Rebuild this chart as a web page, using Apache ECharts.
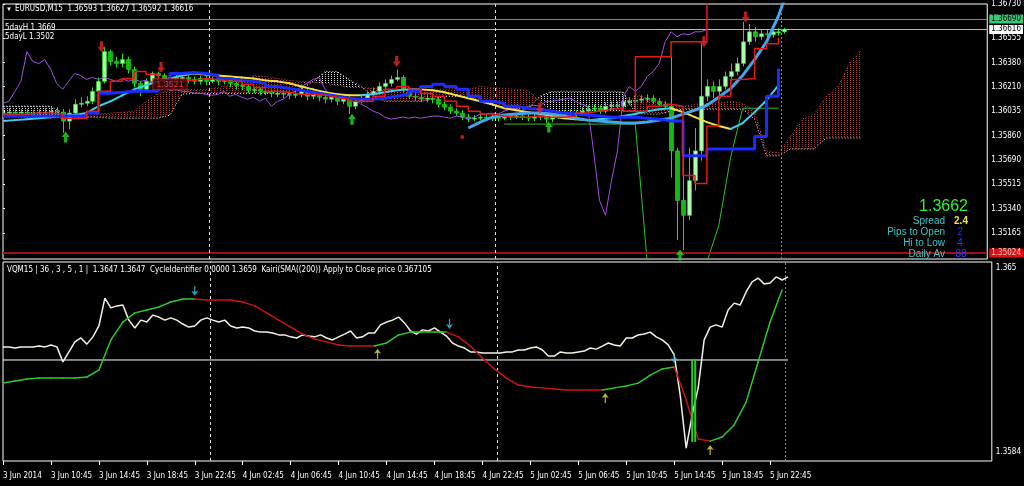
<!DOCTYPE html>
<html>
<head>
<meta charset="utf-8">
<script src="https://cdn.jsdelivr.net/npm/echarts@6.0.0/dist/echarts.min.js"></script>
<style>
html,body{margin:0;padding:0;background:#000;overflow:hidden}
#chart{width:1024px;height:486px}
</style>
</head>
<body>
<div id="chart"></div>
<script>
// ================= DATA =================
// time axis labels (one every 16 M15 bars = 4h)
const timeLabels = ['3 Jun 2014','3 Jun 10:45','3 Jun 14:45','3 Jun 18:45','3 Jun 22:45','4 Jun 02:45','4 Jun 06:45','4 Jun 10:45','4 Jun 14:45','4 Jun 18:45','4 Jun 22:45','5 Jun 02:45','5 Jun 06:45','5 Jun 10:45','5 Jun 14:45','5 Jun 18:45','5 Jun 22:45'];
// bar index (M15 bars from first bar) where each new day starts
const dayStartBars = [69, 165];
const lastDayStartBar = 261;

// EURUSD candles (one entry per 30 minutes)
const closes = [1.36020,1.36027,1.36020,1.36027,1.36020,1.36020,1.36027,1.36027,1.36034,1.36027,
1.35963,1.36020,1.36083,1.36090,1.36104,1.36175,1.36246,1.36458,1.36387,1.36373,
1.36401,1.36331,1.36232,1.36189,1.36246,1.36302,1.36288,1.36260,1.36274,1.36260,
1.36274,1.36260,1.36246,1.36267,1.36246,1.36260,1.36246,1.36253,1.36232,1.36218,
1.36210,1.36182,1.36189,1.36175,1.36175,1.36161,1.36161,1.36154,1.36147,1.36154,
1.36175,1.36140,1.36154,1.36133,1.36119,1.36133,1.36104,1.36126,1.36069,1.36104,
1.36119,1.36154,1.36175,1.36210,1.36232,1.36260,1.36274,1.36189,1.36140,1.36133,
1.36119,1.36126,1.36119,1.36083,1.36062,1.36034,1.36020,1.35991,1.35977,1.35984,
1.35991,1.35984,1.35991,1.35984,1.35991,1.35999,1.35999,1.35991,1.35984,1.35999,
1.35991,1.35977,1.35991,1.36013,1.36013,1.36020,1.36013,1.36034,1.36048,1.36055,
1.36034,1.36069,1.36076,1.36069,1.36104,1.36104,1.36112,1.36119,1.36126,1.36104,
1.36083,1.36069,1.35751,1.35398,1.35292,1.35539,1.35751,1.36140,1.36210,1.36175,
1.36210,1.36281,1.36316,1.36373,1.36528,1.36599,1.36564,1.36585,1.36578,1.36599,
1.36599,1.36616];
const highs = [1.36048,1.36055,1.36048,1.36048,1.36048,1.36041,1.36048,1.36055,1.36062,1.36062,
1.36048,1.36048,1.36119,1.36133,1.36140,1.36203,1.36274,1.36493,1.36472,1.36422,
1.36444,1.36422,1.36352,1.36246,1.36267,1.36316,1.36316,1.36302,1.36295,1.36295,
1.36295,1.36288,1.36281,1.36288,1.36288,1.36281,1.36281,1.36274,1.36267,1.36246,
1.36239,1.36225,1.36210,1.36203,1.36203,1.36189,1.36189,1.36182,1.36175,1.36182,
1.36203,1.36189,1.36175,1.36175,1.36154,1.36154,1.36147,1.36147,1.36140,1.36126,
1.36147,1.36175,1.36203,1.36239,1.36260,1.36288,1.36331,1.36288,1.36203,1.36161,
1.36154,1.36147,1.36147,1.36140,1.36104,1.36083,1.36055,1.36041,1.36013,1.36006,
1.36013,1.36013,1.36013,1.36013,1.36013,1.36020,1.36020,1.36020,1.36013,1.36020,
1.36020,1.36013,1.36020,1.36034,1.36041,1.36048,1.36041,1.36062,1.36076,1.36083,
1.36076,1.36097,1.36104,1.36104,1.36133,1.36133,1.36140,1.36147,1.36154,1.36147,
1.36126,1.36104,1.36422,1.35772,1.35716,1.35772,1.35914,1.36514,1.36260,1.36246,
1.36260,1.36316,1.36373,1.36415,1.36670,1.36655,1.36634,1.36620,1.36620,1.36627,
1.36627,1.36627];
const lows = [1.35991,1.35999,1.35999,1.35999,1.35991,1.35999,1.36006,1.36006,1.36006,1.35999,
1.35879,1.35907,1.36006,1.36062,1.36069,1.36083,1.36154,1.36232,1.36359,1.36345,
1.36345,1.36302,1.36203,1.36140,1.36175,1.36232,1.36260,1.36232,1.36246,1.36239,
1.36246,1.36232,1.36225,1.36225,1.36218,1.36232,1.36218,1.36225,1.36203,1.36189,
1.36182,1.36161,1.36161,1.36147,1.36147,1.36133,1.36133,1.36126,1.36119,1.36126,
1.36133,1.36112,1.36119,1.36104,1.36090,1.36097,1.36076,1.36083,1.36013,1.36048,
1.36090,1.36097,1.36140,1.36154,1.36189,1.36210,1.36246,1.36168,1.36119,1.36104,
1.36097,1.36097,1.36090,1.36062,1.36041,1.36013,1.35999,1.35970,1.35956,1.35963,
1.35970,1.35963,1.35963,1.35963,1.35970,1.35970,1.35977,1.35970,1.35963,1.35963,
1.35970,1.35949,1.35956,1.35977,1.35991,1.35991,1.35991,1.35999,1.36020,1.36027,
1.36013,1.36020,1.36048,1.36048,1.36055,1.36076,1.36083,1.36090,1.36097,1.36083,
1.36062,1.36048,1.35561,1.35115,1.35045,1.35257,1.35469,1.35681,1.36104,1.36126,
1.36140,1.36189,1.36246,1.36288,1.36352,1.36507,1.36528,1.36542,1.36550,1.36557,
1.36571,1.36585];

// indicator lines (one point every 4 M15 bars)
const tenkan = [1.36013,1.36013,1.36020,1.36020,1.36013,1.35984,1.35984,1.36034,1.36175,1.36246,
1.36267,1.36316,1.36295,1.36246,1.36253,1.36253,1.36267,1.36260,1.36246,1.36246,
1.36225,1.36203,1.36175,1.36168,1.36154,1.36154,1.36147,1.36133,1.36119,1.36104,
1.36104,1.36140,1.36189,1.36210,1.36189,1.36161,1.36140,1.36104,1.36069,1.36034,
1.36013,1.35999,1.35991,1.35991,1.35999,1.35991,1.35991,1.35999,1.36020,1.36034,
1.36048,1.36055,1.36034,1.36034,1.36069,1.36083,1.36069,1.35575,1.35518,1.35928,
1.36140,1.36260,1.36267,1.36479,1.36514,1.36557];
const kijun = [1.35999,1.35999,1.35999,1.35999,1.35999,1.35999,1.35999,1.36020,1.36161,1.36168,
1.36175,1.36175,1.36175,1.36210,1.36302,1.36309,1.36302,1.36288,1.36267,1.36253,
1.36246,1.36232,1.36210,1.36196,1.36182,1.36168,1.36154,1.36140,1.36126,1.36119,
1.36119,1.36126,1.36140,1.36154,1.36175,1.36210,1.36225,1.36210,1.36189,1.36140,
1.36104,1.36090,1.36069,1.36055,1.36048,1.36034,1.36020,1.36013,1.36006,1.35999,
1.35991,1.35991,1.35991,1.35984,1.35977,1.35963,1.35963,1.35716,1.35716,1.35765,
1.35765,1.35765,1.35765,1.35853,1.36140,1.36338];
const redStop = [null,null,null,null,null,null,null,null,null,null,
null,null,null,null,null,null,null,null,null,null,
null,null,null,null,null,null,null,null,null,null,
null,null,null,null,null,null,null,null,null,null,
null,null,null,null,null,null,null,null,null,null,
null,null,1.36034,1.36422,1.36422,1.36422,1.36528,1.36528,1.36528,1.36811];
const movingAvg = [1.35963,1.35970,1.35977,1.35984,1.35991,1.35999,1.36006,1.36020,1.36069,1.36104,
1.36147,1.36189,1.36218,1.36246,1.36267,1.36288,1.36302,1.36295,1.36288,1.36281,
1.36274,1.36267,1.36253,1.36246,1.36232,1.36210,1.36189,1.36168,1.36154,1.36147,
1.36147,1.36154,1.36168,1.36182,1.36189,1.36189,1.36182,1.36168,1.36147,1.36126,
1.36104,1.36083,1.36055,1.36041,1.36027,1.36013,1.35999,1.35984,1.35977,1.35970,
1.35977,1.35984,1.35999,1.36013,1.36034,1.36048,1.36055,1.36027,1.35991,1.35956,
1.35928,1.35907,1.35949,1.36027,1.36112,1.36218];
const regression = [null,null,null,null,null,null,null,null,null,null,
null,null,null,null,null,null,null,null,null,null,
null,null,null,null,null,null,null,null,null,null,
null,null,null,null,null,null,null,null,null,1.35914,
1.35956,1.35991,1.36006,1.36013,1.36020,1.36020,1.36013,1.35999,1.35984,1.35970,
1.35963,1.35956,1.35949,1.35949,1.35956,1.35970,1.35984,1.36013,1.36041,1.36076,
1.36133,1.36196,1.36288,1.36401,1.36528,1.36712,1.36952];
const greenStop = [null,null,null,null,null,null,null,null,null,null,
null,null,null,null,null,null,null,null,null,null,
null,null,null,null,null,null,null,null,null,null,
null,null,null,null,null,null,null,null,null,null,
null,null,1.35942,1.35942,1.35942,1.35942,1.35942,1.35942,1.35942,1.35942,
1.35942,1.35942,1.35942,1.35942,1.34960,null,null,null,null,1.34960,
1.35221,1.35709,1.36055,1.36055,1.36055,1.36055];
const spanA = [1.35991,1.35991,1.35991,1.35991,1.35991,1.35984,1.35984,1.35999,1.36013,1.36020,
1.36027,1.36034,1.36104,1.36161,1.36182,1.36189,1.36189,1.36189,1.36203,1.36218,
1.36246,1.36288,1.36281,1.36267,1.36253,1.36246,1.36239,1.36232,1.36218,1.36203,
1.36203,1.36196,1.36189,1.36189,1.36189,1.36189,1.36189,1.36189,1.36196,1.36189,
1.36210,1.36203,1.36196,1.36189,1.36182,1.36104,1.36034,1.36034,1.36034,1.36034,
1.36034,1.36034,1.36034,1.36154,1.36126,1.36104,1.36083,1.36069,1.36083,1.36090,
1.36090,1.36104,1.36090,1.36034,1.35751,1.35737,1.35853,1.35977,1.36013,1.36140,
1.36210,1.36387,1.36472];
const spanB = [1.36069,1.36069,1.36069,1.36069,1.36069,1.36020,1.35991,1.35991,1.35991,1.35984,
1.35984,1.35984,1.35984,1.35984,1.36006,1.36154,1.36161,1.36161,1.36161,1.36161,
1.36161,1.36161,1.36161,1.36161,1.36161,1.36189,1.36246,1.36316,1.36316,1.36260,
1.36210,1.36140,1.36104,1.36104,1.36104,1.36104,1.36119,1.36140,1.36140,1.36140,
1.36104,1.36076,1.36062,1.36055,1.36048,1.36140,1.36175,1.36175,1.36175,1.36175,
1.36175,1.36175,1.36168,1.36020,1.36013,1.36013,1.36034,1.36048,1.36048,1.36048,
1.36048,1.36048,1.36048,1.35977,1.35716,1.35716,1.35765,1.35765,1.35765,1.35843,
1.35843,1.35843,1.35843];

// signal arrows: [bar index, price]
const sellArrows = [[33,1.36493],[53,1.36345],[132,1.36387],[180,1.36055],[235,1.36528],[249,1.36705]];
const buyArrows = [[21,1.35850],[117,1.35977],[183,1.35921],[227,1.35010]];
const redDots = [[154,1.35850]];
const priceTags = [[56,1.36225,'1.3521']];

// price levels
const fiveDayHigh = 1.36690;
const fiveDayLow = 1.35024;
const bidPrice = 1.36616;

// top price axis
const topTickValues = [1.36555,1.36380,1.36210,1.36035,1.35860,1.35690,1.35515,1.35340,1.35165];
const topMaxLabel = '1.36730';

// lower window: Kairi (white) every 30 min, VQM every 4 bars
const kairi = [1.36217,1.36217,1.36213,1.36217,1.36217,1.36217,1.36220,1.36217,1.36224,1.36217,
1.36163,1.36199,1.36235,1.36249,1.36227,1.36253,1.36292,1.36392,1.36357,1.36364,
1.36367,1.36313,1.36285,1.36313,1.36306,1.36331,1.36324,1.36313,1.36321,1.36313,
1.36299,1.36288,1.36292,1.36313,1.36321,1.36313,1.36306,1.36313,1.36292,1.36285,
1.36288,1.36285,1.36274,1.36270,1.36270,1.36267,1.36260,1.36260,1.36253,1.36249,
1.36260,1.36256,1.36253,1.36260,1.36249,1.36242,1.36253,1.36263,1.36274,1.36249,
1.36253,1.36267,1.36267,1.36296,1.36306,1.36313,1.36324,1.36303,1.36274,1.36263,
1.36278,1.36274,1.36285,1.36270,1.36256,1.36231,1.36220,1.36213,1.36199,1.36199,
1.36195,1.36195,1.36195,1.36195,1.36199,1.36199,1.36206,1.36206,1.36213,1.36217,
1.36206,1.36184,1.36184,1.36199,1.36195,1.36195,1.36199,1.36202,1.36213,1.36209,
1.36220,1.36231,1.36224,1.36220,1.36249,1.36249,1.36260,1.36263,1.36270,1.36253,
1.36242,1.36224,1.36188,1.36044,1.35854,1.35973,1.36070,1.36242,1.36288,1.36296,
1.36288,1.36349,1.36374,1.36367,1.36414,1.36450,1.36464,1.36443,1.36446,1.36468,
1.36457,1.36468];
const vqm = [1.36087,1.36095,1.36102,1.36105,1.36105,1.36105,1.36105,1.36109,1.36134,1.36242,
1.36306,1.36339,1.36349,1.36360,1.36378,1.36389,1.36389,1.36385,1.36385,1.36385,
1.36378,1.36364,1.36339,1.36313,1.36288,1.36263,1.36245,1.36235,1.36224,1.36220,
1.36220,1.36220,1.36231,1.36260,1.36270,1.36270,1.36270,1.36270,1.36253,1.36220,
1.36177,1.36138,1.36105,1.36080,1.36073,1.36070,1.36066,1.36062,1.36062,1.36062,
1.36062,1.36070,1.36077,1.36087,1.36116,1.36138,1.36145,1.36027,1.35887,1.35879,
1.35894,1.35937,1.36019,1.36163,1.36306,1.36421];
const lowerLevel = 1.36170;
const vqmDownSignals = [[64,1.36418],[149,1.36299],[224,1.36177]];
const vqmUpSignals = [[125,1.36192],[201,1.36034],[236,1.35847]];
const cycleBars = [[230,1.36170,1.35876],[231,1.36170,1.35876]];
const lowerTickValues = [1.365, 1.3584];
const lowerTickLabels = ['1.365', '1.3584'];

// ================= RENDER =================
const BARS_PER_SLOT = 2, BARS_PER_POINT = 4, LABEL_EVERY = 16, CHIKOU_SHIFT = 26;
const X_MAX = 330;
const TOP_MIN = 1.34981, TOP_MAX = 1.36797;
const BOT_MIN = 1.358077, BOT_MAX = 1.365215;
const FS = '"Liberation Sans Narrow","DejaVu Sans Condensed","Liberation Sans",sans-serif';
const FI = '"Liberation Sans",Arial,sans-serif';

function dots(color){ const c=document.createElement('canvas'); c.width=3; c.height=2; const g=c.getContext('2d'); g.fillStyle=color; g.fillRect(1,0,1,1); return {image:c, repeat:'repeat'}; }
const hatchRed = dots('#b23c3c'), hatchWhite = dots('#e0e0e0');

const pts = (arr, step) => arr.map((v,m)=>[m*step, v==null?'-':v]);
const candleData = closes.map((c,k)=>[k*BARS_PER_SLOT, k?closes[k-1]:c, c, lows[k], highs[k]]);
const chikouData = closes.map((c,k)=>[k*BARS_PER_SLOT-CHIKOU_SHIFT, c]).filter(d=>d[0]>=0);
const cloudData = spanA.slice(0,-1).map((a,m)=>[m*BARS_PER_POINT, a, spanB[m], (m+1)*BARS_PER_POINT, spanA[m+1], spanB[m+1]]);
function trendSegs(arr, step){
  const s=[]; let up=true;
  for(let m=0;m<arr.length-1;m++){ const a=arr[m], b=arr[m+1]; if(b>a) up=true; else if(b<a) up=false; s.push([m*step,a,(m+1)*step,b,up?1:0]); }
  return s;
}
const tickIdx = timeLabels.map((_,j)=>j*LABEL_EVERY);
const lastBar = (closes.length-1)*BARS_PER_SLOT;

function renderCandle(params, api){
  const i=api.value(0), o=api.value(1), c=api.value(2), l=api.value(3), h=api.value(4);
  const po=api.coord([i,o]), pc=api.coord([i,c]), pl=api.coord([i,l]), ph=api.coord([i,h]);
  const x=Math.round(po[0])+0.5;
  const top=Math.min(po[1],pc[1]), bot=Math.max(po[1],pc[1]);
  return {type:'group', children:[
    {type:'line', shape:{x1:x,y1:ph[1],x2:x,y2:pl[1]}, style:{stroke:'#1fe01f',lineWidth:1}},
    {type:'rect', shape:{x:x-2,y:top,width:4,height:Math.max(1,bot-top)}, style:{fill:c>=o?'#a8ffa8':'#16b816', stroke:'#1fe01f', lineWidth:0.6}}
  ]};
}
function renderCloud(params, api){
  const p1=api.coord([api.value(0),api.value(1)]), p2=api.coord([api.value(3),api.value(4)]);
  const p3=api.coord([api.value(3),api.value(5)]), p4=api.coord([api.value(0),api.value(2)]);
  const aAbove = api.value(1)+api.value(4) > api.value(2)+api.value(5);
  return {type:'polygon', shape:{points:[p1,p2,p3,p4]}, style:{fill: aAbove?hatchRed:hatchWhite}};
}
function segRenderer(upColor, downColor, width){
  return function(params, api){
    const p0=api.coord([api.value(0),api.value(1)]), p1=api.coord([api.value(2),api.value(3)]);
    return {type:'line', shape:{x1:p0[0],y1:p0[1],x2:p1[0],y2:p1[1]}, style:{stroke: api.value(4)?upColor:downColor, lineWidth:width, lineCap:'round'}};
  };
}
function renderCycleBar(params, api){
  const a=api.coord([api.value(0),api.value(1)]), b=api.coord([api.value(0),api.value(2)]);
  return {type:'rect', shape:{x:a[0]-1, y:a[1], width:2, height:b[1]-a[1]}, style:{fill:'#28c828'}};
}
const DOWN = 'path://M3,0 L7,0 L7,6 L10,6 L5,12 L0,6 L3,6 Z';
const UP = 'path://M5,0 L10,6 L7,6 L7,12 L3,12 L3,6 L0,6 Z';
const THIN_DOWN = 'path://M3.3,0 L4.7,0 L4.7,6 L8,5 L4,10 L0,5 L3.3,6 Z';
const THIN_UP = 'path://M4,0 L8,5 L4.7,4 L4.7,10 L3.3,10 L3.3,4 L0,5 Z';

function levelLabel(bg, fg){ return {show:true, position:'end', distance:2, formatter:p=>Number(p.value).toFixed(5), backgroundColor:bg, color:fg, fontSize:8, fontFamily:FS, padding:[1,2,0,2]}; }
const sepLines = dayStartBars.map(b=>({xAxis:b, lineStyle:{color:'#e0e0e0', type:[3,3], width:1}}))
  .concat([{xAxis:lastDayStartBar, lineStyle:{color:'#8a8a8a', type:[2,2], width:1}}]);

const chart = echarts.init(document.getElementById('chart'), null, {renderer:'canvas', width:1024, height:486});
const option = {
  backgroundColor:'#000',
  animation:false,
  grid:[
    {left:3, top:2, right:31, height:257, show:true, borderColor:'#ffffff', borderWidth:1, backgroundColor:'transparent'},
    {left:3, top:262, right:31, height:199, show:true, borderColor:'#ffffff', borderWidth:1, backgroundColor:'transparent'}
  ],
  xAxis:[
    {type:'value', gridIndex:0, min:0, max:X_MAX, axisLine:{show:false}, axisTick:{show:false}, axisLabel:{show:false}, splitLine:{show:false}},
    {type:'value', gridIndex:1, min:0, max:X_MAX, axisLine:{show:false}, splitLine:{show:false},
     axisTick:{show:true, customValues:tickIdx, length:4, lineStyle:{color:'#ffffff'}},
     axisLabel:{show:true, customValues:tickIdx, formatter:v=>timeLabels[Math.round(v/LABEL_EVERY)], color:'#ffffff', fontSize:8, fontFamily:FS, align:'left', margin:11}}
  ],
  yAxis:[
    {type:'value', gridIndex:0, position:'right', min:TOP_MIN, max:TOP_MAX, splitLine:{show:false}, axisLine:{show:false},
     axisTick:{show:true, customValues:[TOP_MAX].concat(topTickValues), length:2, lineStyle:{color:'#ffffff'}},
     axisLabel:{show:true, customValues:[TOP_MAX].concat(topTickValues), margin:4, color:'#ffffff', fontSize:8, fontFamily:FS,
       formatter:v=> v>=TOP_MAX-1e-7 ? topMaxLabel : v.toFixed(5)}},
    {type:'value', gridIndex:1, position:'right', min:BOT_MIN, max:BOT_MAX, splitLine:{show:false}, axisLine:{show:false},
     axisTick:{show:false},
     axisLabel:{show:true, customValues:lowerTickValues, margin:4, color:'#ffffff', fontSize:8, fontFamily:FS,
       formatter:v=>{ let j=0; lowerTickValues.forEach((t,n)=>{ if(Math.abs(t-v)<Math.abs(lowerTickValues[j]-v)) j=n; }); return lowerTickLabels[j]; }}}
  ],
  series:[
    {type:'custom', name:'cloud', xAxisIndex:0, yAxisIndex:0, data:cloudData, renderItem:renderCloud, encode:{x:[0,3], y:[1,2,4,5]}, clip:true, z:1, silent:true},
    {type:'line', name:'spanA', xAxisIndex:0, yAxisIndex:0, data:pts(spanA,BARS_PER_POINT), showSymbol:false, lineStyle:{color:'#c04848', width:1, type:[1,2]}, z:2, silent:true},
    {type:'line', name:'spanB', xAxisIndex:0, yAxisIndex:0, data:pts(spanB,BARS_PER_POINT), showSymbol:false, lineStyle:{color:'#f0f0f0', width:1, type:[1,2]}, z:2, silent:true},
    {type:'custom', name:'candles', xAxisIndex:0, yAxisIndex:0, data:candleData, renderItem:renderCandle, encode:{x:0, y:[1,2,3,4]}, clip:true, z:3, silent:true},
    {type:'line', name:'chikou', xAxisIndex:0, yAxisIndex:0, data:chikouData, showSymbol:false, lineStyle:{color:'#a64ce6', width:1}, z:4, silent:true},
    {type:'line', name:'greenStop', xAxisIndex:0, yAxisIndex:0, data:pts(greenStop,BARS_PER_POINT), showSymbol:false, connectNulls:false, lineStyle:{color:'#2cc02c', width:1}, z:4, silent:true},
    {type:'line', name:'regression', xAxisIndex:0, yAxisIndex:0, data:pts(regression,BARS_PER_POINT), showSymbol:false, lineStyle:{color:'#45a5ea', width:3}, z:5, silent:true},
    {type:'custom', name:'ma', xAxisIndex:0, yAxisIndex:0, data:trendSegs(movingAvg,BARS_PER_POINT), renderItem:segRenderer('#3cd0f0','#f2e04a',2), encode:{x:[0,2], y:[1,3]}, clip:true, z:5, silent:true},
    {type:'line', name:'kijun', xAxisIndex:0, yAxisIndex:0, data:pts(kijun,BARS_PER_POINT), step:'end', showSymbol:false, lineStyle:{color:'#1a2cff', width:3}, z:6, silent:true},
    {type:'line', name:'tenkan', xAxisIndex:0, yAxisIndex:0, data:pts(tenkan,BARS_PER_POINT), step:'end', showSymbol:false, lineStyle:{color:'#e41a1a', width:1.5}, z:6, silent:true,
     markLine:{symbol:'none', silent:true, animation:false, precision:5, data:[
       {yAxis:fiveDayHigh, lineStyle:{color:'#2ec02e', width:1, type:'solid'}, label:levelLabel('#38c878','#000')},
       {yAxis:bidPrice, lineStyle:{color:'#b4b4b4', width:1, type:'solid'}, label:levelLabel('#ffffff','#000')},
       {yAxis:fiveDayLow, lineStyle:{color:'#9a1010', width:2, type:'solid'}, label:levelLabel('#e01010','#ffd0d0')}
     ].concat(sepLines.map(s=>Object.assign({label:{show:false}}, s)))}},
    {type:'line', name:'redStop', xAxisIndex:0, yAxisIndex:0, data:pts(redStop,BARS_PER_POINT), step:'end', showSymbol:false, lineStyle:{color:'#e41a1a', width:1.5}, z:6, silent:true},
    {type:'scatter', name:'sell', xAxisIndex:0, yAxisIndex:0, data:sellArrows, symbol:DOWN, symbolSize:[8,11], itemStyle:{color:'#e42424'}, z:10, silent:true},
    {type:'scatter', name:'buy', xAxisIndex:0, yAxisIndex:0, data:buyArrows, symbol:UP, symbolSize:[8,11], itemStyle:{color:'#22dd22'}, z:10, silent:true},
    {type:'scatter', name:'dot', xAxisIndex:0, yAxisIndex:0, data:redDots, symbol:'circle', symbolSize:4, itemStyle:{color:'#e42424'}, z:10, silent:true},
    {type:'scatter', name:'tag', xAxisIndex:0, yAxisIndex:0, data:priceTags.map(t=>[t[0],t[1]]), symbolSize:0, z:9, silent:true,
     label:{show:true, position:'inside', formatter:p=>priceTags[p.dataIndex][2], color:'#ff4444', fontSize:9, fontFamily:FI, backgroundColor:'#3a0000', borderColor:'#c81e1e', borderWidth:1, padding:[1,3,0,3]}},

    {type:'line', name:'level', xAxisIndex:1, yAxisIndex:1, data:[[0,lowerLevel],[lastBar,lowerLevel]], showSymbol:false, lineStyle:{color:'#ffffff', width:1}, z:2, silent:true,
     markLine:{symbol:'none', silent:true, animation:false, label:{show:false}, data:sepLines}},
    {type:'line', name:'kairi', xAxisIndex:1, yAxisIndex:1, data:pts(kairi,BARS_PER_SLOT), showSymbol:false, lineStyle:{color:'#f4f0e4', width:1.5}, z:4, silent:true},
    {type:'custom', name:'vqm', xAxisIndex:1, yAxisIndex:1, data:trendSegs(vqm,BARS_PER_POINT), renderItem:segRenderer('#2ec82e','#c81414',1.5), encode:{x:[0,2], y:[1,3]}, clip:true, z:5, silent:true},
    {type:'custom', name:'cycle', xAxisIndex:1, yAxisIndex:1, data:cycleBars, renderItem:renderCycleBar, encode:{x:0, y:[1,2]}, clip:true, z:5, silent:true},
    {type:'scatter', name:'vqmDown', xAxisIndex:1, yAxisIndex:1, data:vqmDownSignals, symbol:THIN_DOWN, symbolSize:[7,10], itemStyle:{color:'#3cc8ec'}, z:10, silent:true},
    {type:'scatter', name:'vqmUp', xAxisIndex:1, yAxisIndex:1, data:vqmUpSignals, symbol:THIN_UP, symbolSize:[7,10], itemStyle:{color:'#f0e040'}, z:10, silent:true}
  ],
  graphic:[
    {type:'text', x:6, y:9, z:100, style:{text:'▼', fill:'#ffffff', font:'6px '+FI, textVerticalAlign:'middle', verticalAlign:'middle'}},
    {type:'text', x:15, y:9, z:100, style:{text:'EURUSD,M15  1.36593 1.36627 1.36592 1.36616', fill:'#ffffff', font:'8px '+FS, textVerticalAlign:'middle', verticalAlign:'middle'}},
    {type:'text', x:5, y:28, z:100, style:{text:'5dayH 1.3669', fill:'#ffffff', font:'8px '+FS, textVerticalAlign:'middle', verticalAlign:'middle'}},
    {type:'text', x:5, y:37, z:100, style:{text:'5dayL 1.3502', fill:'#ffffff', font:'8px '+FS, textVerticalAlign:'middle', verticalAlign:'middle'}},
    {type:'text', x:7, y:270, z:100, style:{text:'VQM15 | 36 , 3 , 5 , 1 |  1.3647 1.3647  CycleIdentifier 0.0000 1.3659  Kairi(SMA((200)) Apply to Close price 0.367105', fill:'#ffffff', font:'8px '+FS, textVerticalAlign:'middle', verticalAlign:'middle'}},
    {type:'text', x:968, y:207, z:100, style:{text:'1.3662', fill:'#33ee33', font:'16px '+FI, textAlign:'right', align:'right', textVerticalAlign:'middle', verticalAlign:'middle'}},
    {type:'text', x:945, y:221, z:100, style:{text:'Spread', fill:'#40c4c4', font:'10px '+FI, textAlign:'right', align:'right', textVerticalAlign:'middle', verticalAlign:'middle'}},
    {type:'text', x:961, y:221, z:100, style:{text:'2.4', fill:'#f0e040', font:'bold 10px '+FI, textAlign:'center', align:'center', textVerticalAlign:'middle', verticalAlign:'middle'}},
    {type:'text', x:945, y:232, z:100, style:{text:'Pips to Open', fill:'#40c4c4', font:'10px '+FI, textAlign:'right', align:'right', textVerticalAlign:'middle', verticalAlign:'middle'}},
    {type:'text', x:960, y:232, z:100, style:{text:'2', fill:'#2233dd', font:'10px '+FI, textAlign:'center', align:'center', textVerticalAlign:'middle', verticalAlign:'middle'}},
    {type:'text', x:945, y:243, z:100, style:{text:'Hi to Low', fill:'#40c4c4', font:'10px '+FI, textAlign:'right', align:'right', textVerticalAlign:'middle', verticalAlign:'middle'}},
    {type:'text', x:960, y:243, z:100, style:{text:'4', fill:'#2a3cff', font:'10px '+FI, textAlign:'center', align:'center', textVerticalAlign:'middle', verticalAlign:'middle'}},
    {type:'text', x:945, y:254, z:100, style:{text:'Daily Av', fill:'#40c4c4', font:'10px '+FI, textAlign:'right', align:'right', textVerticalAlign:'middle', verticalAlign:'middle'}},
    {type:'text', x:961, y:254, z:100, style:{text:'88', fill:'#3b3bff', font:'10px '+FI, textAlign:'center', align:'center', textVerticalAlign:'middle', verticalAlign:'middle'}}
  ]
};
chart.setOption(option);
</script>
</body>
</html>
